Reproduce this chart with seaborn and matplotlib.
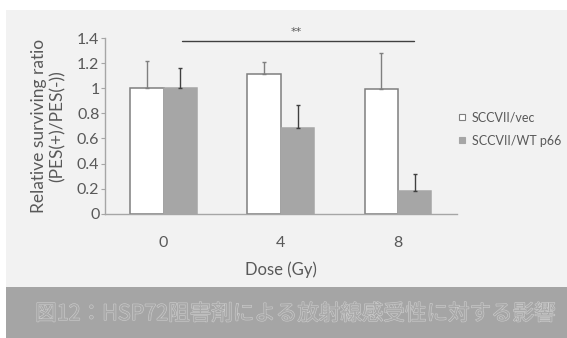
import matplotlib
matplotlib.use("Agg")
import matplotlib.pyplot as plt
import matplotlib.patheffects as pe
from matplotlib.patches import Rectangle
from matplotlib.lines import Line2D
import pandas as pd
import seaborn as sns

# Dose groups and relative surviving ratio (mean, upper SD) per cell line
doses = ["0", "4", "8"]
series = ["SCCVII/vec", "SCCVII/WT p66"]
vec_mean = [1.00, 1.11, 0.99]
vec_err = [0.22, 0.10, 0.29]
p66_mean = [1.00, 0.68, 0.18]
p66_err = [0.16, 0.19, 0.14]
y_ticks = [0, 0.2, 0.4, 0.6, 0.8, 1, 1.2, 1.4]
y_tick_labels = ["0", "0.2", "0.4", "0.6", "0.8", "1", "1.2", "1.4"]
caption = "図12：HSP72阻害剤による放射線感受性に対する影響"

sns.set_theme(style="white")
plt.rcParams["font.family"] = ["Lato", "Noto Sans CJK JP", "DejaVu Sans"]

df = pd.DataFrame({
    "dose": doses * 2,
    "cell": [series[0]] * 3 + [series[1]] * 3,
    "ratio": vec_mean + p66_mean,
    "err": vec_err + p66_err,
})

fill = {series[0]: "#ffffff", series[1]: "#a6a6a6"}
edge = {series[0]: "#7f7f7f", series[1]: "#a6a6a6"}
err_col = {series[0]: "#7f7f7f", series[1]: "#404040"}
text_col = "#595959"

fig = plt.figure(figsize=(5.67, 3.38), dpi=100)
fig.patch.set_facecolor("white")
# light panel and caption band
fig.add_artist(Rectangle((6 / 567, 51 / 338), 1, 277 / 338, transform=fig.transFigure,
                         facecolor="#f2f2f2", edgecolor="none", zorder=-10))
fig.add_artist(Rectangle((6 / 567, 0), 1, 51 / 338, transform=fig.transFigure,
                         facecolor="#a5a5a5", edgecolor="none", zorder=-10))

ax = fig.add_axes([105 / 567, 124.3 / 338, 351.7 / 567, 175.7 / 338])
ax.set_facecolor("none")

sns.barplot(data=df, x="dose", y="ratio", hue="cell", order=doses, hue_order=series,
            palette=fill, width=0.57, errorbar=None, legend=False, ax=ax,
            linewidth=1.1, saturation=1)

for cont, name in zip(ax.containers, series):
    sub = df[df["cell"] == name].set_index("dose").loc[doses]
    xs = []
    for bar in cont:
        bar.set_edgecolor(edge[name])
        bar.set_linewidth(1.1)
        xs.append(bar.get_x() + bar.get_width() / 2)
    ax.errorbar(xs, sub["ratio"].values, yerr=[[0] * len(xs), sub["err"].values],
                fmt="none", ecolor=err_col[name], elinewidth=1.0, capsize=1.2,
                capthick=1.0, zorder=3)

ax.set_ylim(0, 1.4)
ax.set_xlim(-0.5, 2.5)
ax.set_yticks(y_ticks)
ax.set_yticklabels(y_tick_labels)
ax.tick_params(axis="y", left=True, length=3, width=0.8, color="#a6a6a6",
               labelsize=11.5, labelcolor=text_col, pad=1)
ax.tick_params(axis="x", bottom=False, labelsize=11.5, labelcolor=text_col, pad=10)
for s in ["top", "right"]:
    ax.spines[s].set_visible(False)
for s in ["left", "bottom"]:
    ax.spines[s].set_color("#a6a6a6")
    ax.spines[s].set_linewidth(1.0)

ax.set_xlabel("Dose (Gy)", fontsize=12, color=text_col, labelpad=8)
ax.set_ylabel("Relative surviving ratio\n(PES(+)/PES(-))", fontsize=12.5,
              color=text_col, labelpad=8, linespacing=1.2)

# significance bracket between 0 Gy and 8 Gy
ax.plot([0.157, 2.137], [1.378, 1.378], color="#404040", lw=1.0, clip_on=False)
ax.text(1.13, 1.41, "**", ha="center", va="bottom", fontsize=8, color=text_col,
        family=["DejaVu Sans"])

handles = [Line2D([], [], marker="s", linestyle="none", markersize=4,
                  markerfacecolor=fill[n], markeredgecolor="#7f7f7f" if i == 0 else "#a6a6a6",
                  markeredgewidth=0.8) for i, n in enumerate(series)]
fig.legend(handles, series, loc="center left", bbox_to_anchor=(459 / 567, 1 - 129 / 338),
           frameon=False, fontsize=9, labelcolor=text_col, handlelength=0.5,
           handletextpad=0.5, labelspacing=0.9, borderpad=0, borderaxespad=0)

fig.text(295 / 567, 1 - 314 / 338, caption, ha="center", va="center", fontsize=15.5,
         family=["Noto Sans CJK JP", "DejaVu Sans"], color="#a9a9a9",
         path_effects=[pe.Stroke(linewidth=0.8, foreground="#cdcdcd"), pe.Normal()])

fig.savefig("out.png", dpi=100, facecolor=fig.get_facecolor())
